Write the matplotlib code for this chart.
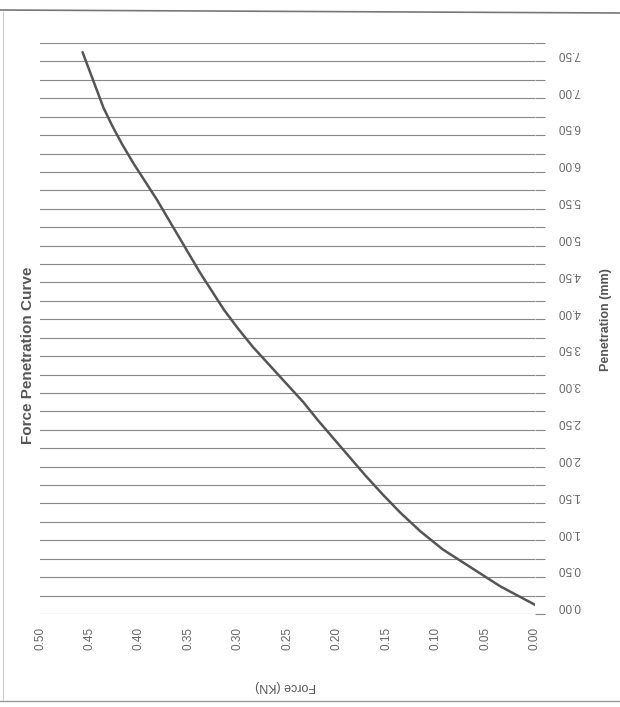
import matplotlib.pyplot as plt
from matplotlib.lines import Line2D
import numpy as np

plt.rcParams['font.family'] = ['Liberation Sans', 'DejaVu Sans']

# penetration readings (mm) and measured force (KN)
penetration = [0.00, 0.25, 0.50, 0.75, 1.00, 1.25, 1.50, 1.75, 2.00, 2.25, 2.50,
               2.75, 3.00, 3.25, 3.50, 3.75, 4.00, 4.25, 4.50, 4.75, 5.00, 5.25,
               5.50, 5.75, 6.00, 6.25, 6.50, 6.75, 7.00, 7.25, 7.50]
force = [0.000, 0.035, 0.064, 0.093, 0.116, 0.136, 0.154, 0.171, 0.187, 0.203, 0.219,
         0.234, 0.251, 0.268, 0.285, 0.300, 0.314, 0.326, 0.338, 0.349, 0.360, 0.371,
         0.382, 0.394, 0.406, 0.417, 0.427, 0.436, 0.443, 0.450, 0.457]

pen_ticks = [0.0, 0.5, 1.0, 1.5, 2.0, 2.5, 3.0, 3.5, 4.0, 4.5, 5.0, 5.5, 6.0, 6.5, 7.0, 7.5]
force_ticks = [0.50, 0.45, 0.40, 0.35, 0.30, 0.25, 0.20, 0.15, 0.10, 0.05, 0.00]

W, H = 620, 707
fig = plt.figure(figsize=(W / 100, H / 100), dpi=100)
ax = fig.add_axes([40 / W, 1 - 614 / H, 495 / W, 571 / H])

ax.plot(force, penetration, color='#555555', lw=1.8, solid_capstyle='round')

ax.set_xlim(0.5, 0.0)
step = penetration[1] - penetration[0]
ax.set_ylim(penetration[0] - step / 2, penetration[-1] + step / 2)

ax.set_xticks(force_ticks)
ax.set_xticklabels([f'{v:.2f}' for v in force_ticks], rotation=90)
ax.set_yticks(pen_ticks)
ax.set_yticklabels([f'{v:.2f}' for v in pen_ticks], rotation=180)
bounds = [p - step / 2 for p in penetration] + [penetration[-1] + step / 2]
ax.set_yticks(bounds, minor=True)

ax.yaxis.tick_right()
ax.tick_params(axis='x', which='major', length=0, pad=9, labelsize=8.5, labelcolor='#666666')
ax.tick_params(axis='y', which='major', length=0, pad=16, labelsize=8.5, labelcolor='#666666')
ax.tick_params(axis='y', which='minor', length=7, width=0.8, color='#888888', direction='out')
ax.grid(True, which='minor', axis='y', color='#888888', lw=0.8)
for s in ax.spines.values():
    s.set_visible(False)

fig.text(28 / W, 1 - 355 / H, 'Force Penetration Curve', rotation=90, ha='center',
         va='center', fontsize=11, fontweight='bold', color='#555555')
fig.text(606 / W, 1 - 320 / H, 'Penetration (mm)', rotation=90, ha='center',
         va='center', fontsize=9, fontweight='bold', color='#555555')
fig.text(286 / W, 1 - 686 / H, 'Force (KN)', rotation=180, ha='center',
         va='center', fontsize=9, color='#555555')

# chart area border
fig.add_artist(Line2D([0, 1], [1 - 10 / H, 1 - 13 / H], color='#777777', lw=1.2))
fig.add_artist(Line2D([0, 1], [1 - 701 / H, 1 - 701 / H], color='#999999', lw=1.0))
fig.add_artist(Line2D([3 / W, 3 / W], [1 - 12 / H, 1 - 700 / H], color='#cccccc', lw=0.8))

fig.savefig('out.png', dpi=100)
